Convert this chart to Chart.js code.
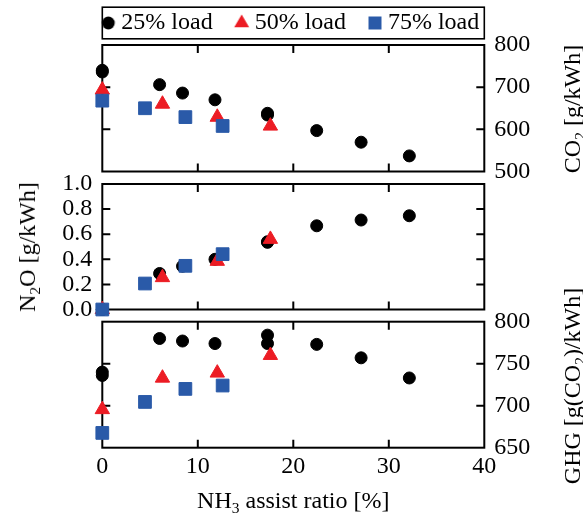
<!DOCTYPE html>
<html><head><meta charset="utf-8">
<script src="https://cdn.jsdelivr.net/npm/chart.js@4.4.0/dist/chart.umd.min.js"></script>
<style>
html,body{margin:0;padding:0;background:#fff;}
#wrap{position:relative;width:583px;height:515px;overflow:hidden;background:#fff;font-family:"Liberation Serif","Times New Roman",serif;color:#000;}
canvas{position:absolute;left:0;}
.t{position:absolute;white-space:nowrap;font-size:24px;line-height:1;transform:translate(-50%,-50%);}
.r{transform:translate(-50%,-50%) rotate(-90deg);}
.s{font-size:15.5px;position:relative;top:5px;}
</style></head><body>
<div id="wrap">
<canvas id="c1" width="583" height="200" style="top:-17px"></canvas>
<canvas id="c2" width="583" height="150" style="top:170px"></canvas>
<canvas id="c3" width="583" height="205" style="top:310px"></canvas>
<div class="t r" style="left:572px;top:108.5px">CO<span class="s">2</span> [g/kWh]</div>
<div class="t r" style="left:26.5px;top:247px">N<span class="s">2</span>O [g/kWh]</div>
<div class="t r" style="left:572px;top:386px">GHG [g(CO<span class="s">2</span>)/kWh]</div>
<div class="t" style="left:293.3px;top:500px">NH<span class="s">3</span> assist ratio [%]</div>
</div>
<script>
// ---- data ----
const seriesNames = ['25% load', '50% load', '75% load'];
const xTicks = [0, 10, 20, 30, 40];
const co2Ticks = [500, 600, 700, 800];
const n2oTicks = [0, 0.2, 0.4, 0.6, 0.8, 1.0];
const ghgTicks = [650, 700, 750, 800];

const ratio25 = [0, 0, 6.0, 8.4, 11.8, 17.3, 17.3, 22.45, 27.1, 32.15];
const co2_25  = [740, 736, 706, 686, 670, 638, 634, 597, 569.5, 537];
const n2o_25  = [0, 0, 0.287, 0.345, 0.40, 0.54, 0.535, 0.667, 0.713, 0.747];
const ghg_25  = [740, 736, 780, 777, 774, 784, 774, 773, 757, 733];

const ratio50 = [0, 6.3, 12.04, 17.6];
const co2_50  = [693.5, 660, 629, 608];
const n2o_50  = [0, 0.255, 0.385, 0.56];
const ghg_50  = [695.5, 733, 739, 760];

const ratio75 = [0, 4.47, 8.7, 12.6];
const co2_75  = [668, 650, 629, 608];
const n2o_75  = [0, 0.207, 0.348, 0.441];
const ghg_75  = [667.6, 704.5, 720, 724];

// ---- styles ----
const colors = ['#000000', '#ec1c24', '#2a5aa8'];
const styles = ['circle', 'triangle', 'rect'];
const radii = [6, 8.3, 9];
const FS = 24;

Chart.defaults.font.family = '"Liberation Serif","Times New Roman",serif';
Chart.defaults.font.size = FS;
Chart.defaults.color = '#000';

function pts(xs, ys) { return xs.map((x, i) => ({x: x, y: ys[i]})); }
function datasets(y25, y50, y75) {
  const ys = [[ratio25, y25], [ratio50, y50], [ratio75, y75]];
  return ys.map((p, i) => ({
    label: seriesNames[i],
    data: pts(p[0], p[1]),
    pointStyle: styles[i],
    pointRadius: radii[i],
    pointBorderWidth: 1,
    backgroundColor: colors[i],
    borderColor: colors[i],
    showLine: false,
    clip: false,
    order: 3 - i
  }));
}

function icon(i) {
  const c = document.createElement('canvas');
  c.width = 20; c.height = 20;
  const g = c.getContext('2d');
  g.fillStyle = colors[i];
  g.beginPath();
  if (i === 0) g.arc(10, 10, 6.4, 0, Math.PI * 2);
  else if (i === 1) { const r = 8.6; g.moveTo(10, 10 - r); g.lineTo(10 + r * 0.866, 10 + r * 0.5); g.lineTo(10 - r * 0.866, 10 + r * 0.5); g.closePath(); }
  else g.rect(3.5, 3.5, 13, 13);
  g.fill();
  return c;
}
const legendIcons = [icon(0), icon(1), icon(2)];

const frame = {
  id: 'frame',
  beforeDatasetsDraw(chart) {
    const {ctx, chartArea: a, scales} = chart;
    ctx.save();
    ctx.strokeStyle = '#000';
    ctx.lineWidth = 2;
    ctx.strokeRect(a.left, a.top, a.right - a.left, a.bottom - a.top);
    const L = 8;
    ctx.beginPath();
    xTicks.forEach(v => {
      const px = scales.x.getPixelForValue(v);
      if (px <= a.left + 1 || px >= a.right - 1) return;
      ctx.moveTo(px, a.top); ctx.lineTo(px, a.top + L);
      ctx.moveTo(px, a.bottom); ctx.lineTo(px, a.bottom - L);
    });
    scales.y.ticks.forEach(t => {
      const py = scales.y.getPixelForValue(t.value);
      if (py <= a.top + 1 || py >= a.bottom - 1) return;
      ctx.moveTo(a.left, py); ctx.lineTo(a.left + L, py);
      ctx.moveTo(a.right, py); ctx.lineTo(a.right - L, py);
    });
    ctx.stroke();
    ctx.restore();
  }
};

const legendBox = {
  id: 'legendBox',
  afterDraw(chart) {
    const lg = chart.legend;
    if (!lg || !lg.legendHitBoxes || !lg.legendHitBoxes.length) return;
    const hb = lg.legendHitBoxes[0];
    const cy = hb.top + hb.height / 2;
    const a = chart.chartArea;
    const ctx = chart.ctx;
    ctx.save();
    ctx.strokeStyle = '#000';
    ctx.lineWidth = 1.6;
    ctx.strokeRect(a.left, cy - 15.8, a.right - a.left, 31.6);
    ctx.restore();
  }
};

function zeroPad(s) { s.paddingTop = 0; s.paddingBottom = 0; s.paddingLeft = 0; s.paddingRight = 0; }

function yScale(ticksArr, pos, fmt) {
  return {
    type: 'linear', position: pos,
    min: ticksArr[0], max: ticksArr[ticksArr.length - 1],
    afterBuildTicks: s => { s.ticks = ticksArr.map(v => ({value: v})); },
    afterFit: s => { s.width = pos === 'left' ? 102.3 : 98.7; zeroPad(s); },
    grid: {display: false, drawTicks: false},
    border: {display: false},
    ticks: {padding: 10, color: '#000', font: {size: FS}, callback: fmt, autoSkip: false}
  };
}
function xScale(show) {
  return {
    type: 'linear', position: 'bottom', display: show,
    min: xTicks[0], max: xTicks[xTicks.length - 1],
    afterBuildTicks: s => { s.ticks = xTicks.map(v => ({value: v})); },
    afterFit: s => { if (show) s.height = 67.3; zeroPad(s); },
    grid: {display: false, drawTicks: false},
    border: {display: false},
    ticks: {padding: 5, color: '#000', font: {size: FS}, maxRotation: 0, minRotation: 0, autoSkip: false,
      callback: v => String(v)}
  };
}

function makeChart(id, ds, yS, xShow, padding, legend) {
  const scales = {x: xScale(xShow), y: yS};
  if (legend) {
    // spacer axis on the left so the full-width legend can sit above the plot
    scales.yl = {
      type: 'linear', position: 'left', display: true,
      afterFit: s => { s.width = 98.7; zeroPad(s); },
      grid: {display: false, drawTicks: false}, border: {display: false},
      ticks: {display: false}
    };
  }
  return new Chart(document.getElementById(id), {
    type: 'scatter',
    data: {datasets: ds},
    options: {
      responsive: false, animation: false, devicePixelRatio: 1, events: [],
      layout: {padding: padding},
      scales: scales,
      plugins: {
        tooltip: {enabled: false},
        legend: legend ? {
          display: true, position: 'top', fullSize: true,
          labels: {
            usePointStyle: true, boxWidth: 2, padding: 28, color: '#000', font: {size: FS},
            generateLabels: chart => chart.data.datasets.map((d, i) => ({
              text: d.label, pointStyle: legendIcons[i], fillStyle: d.backgroundColor,
              strokeStyle: d.backgroundColor, lineWidth: 0, hidden: false, datasetIndex: i, fontColor: '#000'
            }))
          }
        } : {display: false}
      }
    },
    plugins: legend ? [frame, legendBox] : [frame]
  });
}

makeChart('c1', datasets(co2_25, co2_50, co2_75), yScale(co2Ticks, 'right', v => String(v)), false,
  {top: 0, left: 3.6, right: 0, bottom: 11.5}, true);
makeChart('c2', datasets(n2o_25, n2o_50, n2o_75), yScale(n2oTicks, 'left', v => Number(v).toFixed(1)), false,
  {top: 14, left: 0, right: 98.7, bottom: 10.5}, false);
makeChart('c3', datasets(ghg_25, ghg_50, ghg_75), yScale(ghgTicks, 'right', v => String(v)), true,
  {top: 11.7, left: 102.3, right: 0, bottom: 0}, false);
</script>
</body></html>
